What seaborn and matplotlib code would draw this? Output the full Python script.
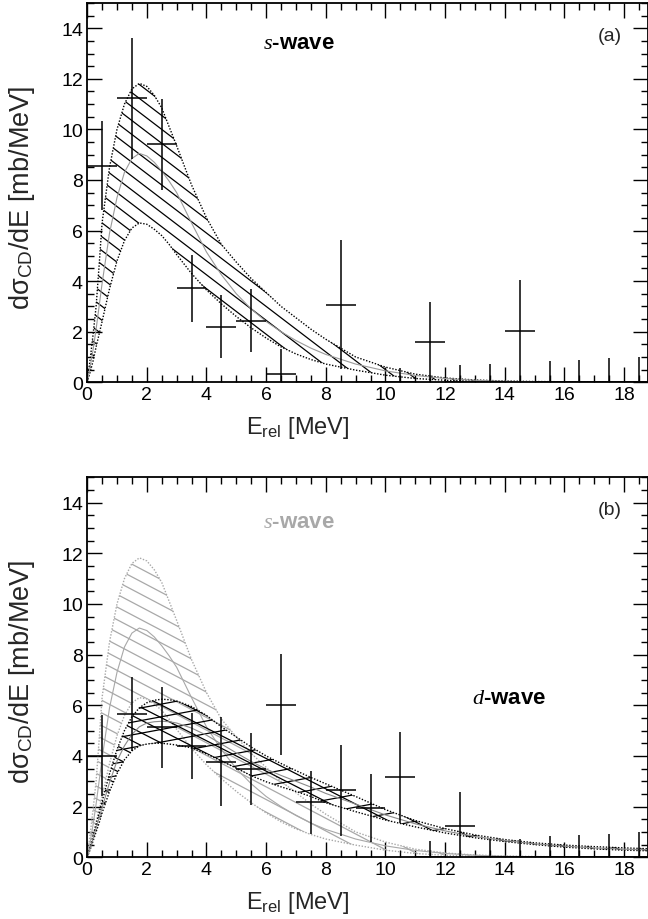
import numpy as np
import pandas as pd
import matplotlib
matplotlib.use("Agg")
import matplotlib.pyplot as plt
import seaborn as sns
from matplotlib.ticker import MultipleLocator
from matplotlib.collections import LineCollection
from matplotlib.patches import PathPatch

# ---------------- data ----------------
E_grid = [0, 0.1, 0.2, 0.3, 0.4, 0.5, 0.75, 1.0, 1.25, 1.5, 1.75, 2.0, 2.25, 2.5,
          2.75, 3.0, 3.5, 4.0, 4.5, 5.0, 5.5, 6.0, 6.5, 7.0, 7.5, 8.0, 9.0, 10.0,
          11.0, 12.0, 13.0, 14.0, 15.0, 16.0, 17.0, 18.0, 19.0]

s_upper = [0, 0.9, 1.9, 3.0, 4.6, 6.3, 8.5, 10.0, 11.0, 11.6, 11.82, 11.7, 11.35, 10.85,
           10.1, 9.35, 7.8, 6.5, 5.45, 4.75, 4.1, 3.55, 3.0, 2.55, 2.1, 1.7, 1.0, 0.6,
           0.32, 0.17, 0.09, 0.05, 0.03, 0.02, 0.01, 0.01, 0.0]
s_lower = [0, 0.4, 0.85, 1.4, 1.9, 2.4, 3.7, 4.8, 5.6, 6.1, 6.3, 6.25, 6.05, 5.8,
           5.45, 5.05, 4.3, 3.65, 3.1, 2.6, 2.15, 1.75, 1.4, 1.12, 0.9, 0.72, 0.48, 0.28,
           0.15, 0.08, 0.04, 0.02, 0.01, 0.0, 0.0, 0.0, 0.0]
s_mid = [0, 0.6, 1.3, 2.1, 3.0, 3.9, 5.9, 7.3, 8.3, 8.85, 9.05, 8.95, 8.7, 8.35,
         7.95, 7.5, 6.3, 5.15, 4.25, 3.5, 2.9, 2.4, 2.0, 1.65, 1.35, 1.1, 0.72, 0.45,
         0.27, 0.15, 0.08, 0.04, 0.02, 0.01, 0.0, 0.0, 0.0]

d_upper = [0, 0.4, 0.85, 1.3, 1.75, 2.2, 3.3, 4.25, 5.0, 5.55, 5.9, 6.1, 6.2, 6.24,
           6.22, 6.17, 5.95, 5.6, 5.15, 4.75, 4.35, 4.0, 3.7, 3.42, 3.15, 2.9, 2.4, 1.88,
           1.45, 1.13, 0.88, 0.7, 0.57, 0.48, 0.42, 0.37, 0.33]
d_lower = [0, 0.3, 0.65, 1.0, 1.35, 1.75, 2.6, 3.3, 3.85, 4.2, 4.4, 4.47, 4.5, 4.5,
           4.47, 4.43, 4.32, 4.08, 3.8, 3.52, 3.22, 2.98, 2.78, 2.6, 2.4, 2.15, 1.8, 1.47,
           1.2, 0.96, 0.77, 0.62, 0.5, 0.4, 0.33, 0.28, 0.25]
d_mid = [0, 0.35, 0.75, 1.15, 1.55, 1.95, 2.95, 3.8, 4.4, 4.85, 5.15, 5.3, 5.35, 5.37,
         5.35, 5.3, 5.1, 4.82, 4.47, 4.12, 3.78, 3.48, 3.23, 3.0, 2.77, 2.52, 2.1, 1.67,
         1.32, 1.04, 0.82, 0.66, 0.53, 0.44, 0.37, 0.32, 0.29]

E_bins = [0.5, 1.5, 2.5, 3.5, 4.5, 5.5, 6.5, 7.5, 8.5, 9.5, 10.5, 11.5, 12.5, 13.5,
          14.5, 15.5, 16.5, 17.5, 18.5]
bin_half = 0.5

data_a = [8.57, 11.23, 9.41, 3.72, 2.2, 2.44, 0.33, 0.0, 3.06, 0.0, 0.0, 1.58, 0.0, 0.0,
          2.02, 0.0, 0.0, 0.0, 0.0]
err_a = [1.75, 2.4, 1.8, 1.33, 1.25, 1.24, 1.0, 0.0, 2.55, 0.0, 0.55, 1.58, 0.7, 0.72,
         2.03, 0.86, 0.88, 0.95, 1.0]

data_b = [4.01, 5.65, 5.13, 4.4, 3.77, 3.48, 6.02, 2.17, 2.65, 1.94, 3.15, 0.0, 1.25, 0.0,
          0.0, 0.0, 0.0, 0.0, 0.0]
err_b = [1.6, 1.45, 1.6, 1.3, 1.75, 1.43, 2.0, 1.24, 1.8, 1.35, 1.8, 0.65, 1.31, 0.72,
         0.72, 0.85, 0.88, 0.93, 1.01]

x_ticks = [0, 2, 4, 6, 8, 10, 12, 14, 16, 18]
y_ticks = [0, 2, 4, 6, 8, 10, 12, 14]

curves = pd.DataFrame({"E": E_grid, "s_up": s_upper, "s_lo": s_lower, "s_mid": s_mid,
                       "d_up": d_upper, "d_lo": d_lower, "d_mid": d_mid})
pts_a = pd.DataFrame({"E": E_bins, "y": data_a, "err": err_a})
pts_b = pd.DataFrame({"E": E_bins, "y": data_b, "err": err_b})

# ---------------- style ----------------
sns.set_theme(style="ticks")
plt.rcParams["font.family"] = ["Liberation Sans", "DejaVu Sans"]
plt.rcParams["mathtext.fontset"] = "custom"
plt.rcParams["mathtext.rm"] = "Liberation Sans"
plt.rcParams["mathtext.it"] = "Liberation Serif:italic"
plt.rcParams["mathtext.bf"] = "Liberation Sans:bold"
plt.rcParams["axes.linewidth"] = 1.3

GRAY = "#a8a8a8"

fig = plt.figure(figsize=(6.48, 9.2), dpi=100)
ax_a = fig.add_axes([0.1345, 0.5834, 0.8655, 0.4123])
ax_b = fig.add_axes([0.1345, 0.0671, 0.8655, 0.4130])


def style_axes(ax):
    ax.set_xlim(0, 18.8)
    ax.set_ylim(0, 15)
    ax.set_xticks(x_ticks)
    ax.set_yticks(y_ticks)
    ax.xaxis.set_minor_locator(MultipleLocator(0.5))
    ax.yaxis.set_minor_locator(MultipleLocator(0.5))
    ax.tick_params(which="both", direction="in", top=True, right=True,
                   colors="black", labelsize=14, width=1.0)
    ax.tick_params(which="major", length=10.5, pad=3)
    ax.tick_params(which="minor", length=5)
    for sp in ax.spines.values():
        sp.set_visible(True)
        sp.set_color("black")
        sp.set_linewidth(1.3)
    ax.set_facecolor("white")
    ax.set_xlabel(r"E$_{\mathrm{rel}}$ [MeV]", fontsize=17)
    ax.set_ylabel(r"d$\mathrm{\sigma}_{\mathrm{CD}}$/dE [mb/MeV]", fontsize=19.5)
    ax.xaxis.set_label_coords(0.375, -0.084)
    ax.yaxis.set_label_coords(-0.089, 0.49)


def hatch_fill(ax, lo, up, families, color, lw):
    """Fill region between two curves with custom-angle hatch lines (style only)."""
    poly = ax.fill_between(curves["E"], curves[lo], curves[up], facecolor="none",
                           edgecolor="none", linewidth=0)
    clip = PathPatch(poly.get_paths()[0], transform=ax.transData,
                     facecolor="none", edgecolor="none")
    ax.add_patch(clip)
    for slope, spacing in families:
        offs = np.arange(-40, 40, spacing)
        segs = [[(-1, c - slope), (20, c + 20 * slope)] for c in offs]
        lc = LineCollection(segs, colors=color, linewidths=lw)
        ax.add_collection(lc, autolim=False)
        lc.set_clip_path(clip)


def band(ax, up, lo, mid, color, families, midcolor, hlw):
    hatch_fill(ax, lo, up, families, color, hlw)
    sns.lineplot(data=curves, x="E", y=up, ax=ax, color=color, lw=1.0,
                 linestyle=(0, (1, 1.2)), estimator=None, sort=False)
    sns.lineplot(data=curves, x="E", y=lo, ax=ax, color=color, lw=1.0,
                 linestyle=(0, (1, 1.2)), estimator=None, sort=False)
    sns.lineplot(data=curves, x="E", y=mid, ax=ax, color=midcolor, lw=0.8,
                 estimator=None, sort=False)


def points(ax, df):
    ax.errorbar(df["E"], df["y"], xerr=bin_half, yerr=df["err"], fmt="none",
                ecolor="black", elinewidth=1.1, capsize=0, zorder=5)


# panel (a)
band(ax_a, "s_up", "s_lo", "s_mid", "black", [(-0.9, 0.55)], "#9a9a9a", 0.9)
points(ax_a, pts_a)
style_axes(ax_a)
ax_a.text(5.9, 13.45, r"$\mathit{s}$-wave", fontsize=16, fontweight="bold",
          ha="left", va="center", color="black")
ax_a.text(17.1, 13.72, "(a)", fontsize=14, ha="left", va="center")

# panel (b)
band(ax_b, "s_up", "s_lo", "s_mid", GRAY, [(-0.62, 0.5)], GRAY, 0.9)
band(ax_b, "d_up", "d_lo", "d_mid", "black", [(-0.6, 0.5), (0.22, 0.5)], "#8a8a8a", 0.9)
points(ax_b, pts_b)
style_axes(ax_b)
ax_b.text(5.9, 13.27, r"$\mathit{s}$-wave", fontsize=16, fontweight="bold",
          ha="left", va="center", color=GRAY)
ax_b.text(12.9, 6.32, r"$\mathit{d}$-wave", fontsize=16, fontweight="bold",
          ha="left", va="center", color="black")
ax_b.text(17.1, 13.73, "(b)", fontsize=14, ha="left", va="center")

fig.savefig("out.png", dpi=100, facecolor="white")
